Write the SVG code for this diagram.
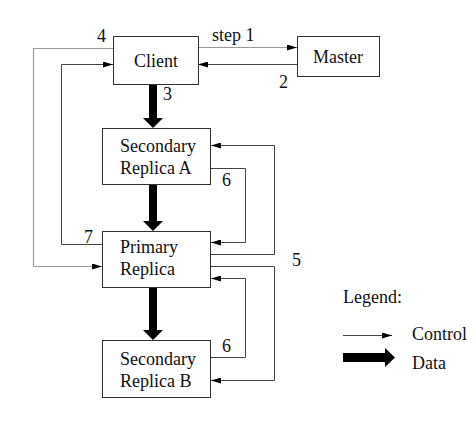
<svg xmlns="http://www.w3.org/2000/svg" width="474" height="441" viewBox="0 0 474 441">
<style>
.box{fill:#fff;stroke:#333;stroke-width:1}
.t{font-family:"Liberation Serif","DejaVu Serif","Times New Roman",serif;font-size:18px;fill:#111}
.c{fill:none;stroke:#444;stroke-width:1}
.cl{fill:none;stroke:#999;stroke-width:1.2}
.d{fill:#000;stroke:none}
</style>
<defs>
<marker id="ah" viewBox="0 0 10 6" refX="10" refY="3" markerWidth="10" markerHeight="6" markerUnits="userSpaceOnUse" orient="auto">
<path d="M0,0 L10,3 L0,6 z" fill="#000"/>
</marker>
</defs>
<rect width="474" height="441" fill="#fff"/>
<g id="connectors">
<path class="cl" d="M198,47.5 H297" marker-end="url(#ah)"/>
<path class="c" d="M297,64.5 H198" marker-end="url(#ah)"/>
<path class="cl" d="M113,48.5 H33.5 V266.5 H102" marker-end="url(#ah)"/>
<path class="c" d="M102,244.5 H61.5 V64.5 H113" marker-end="url(#ah)"/>
<path class="c" d="M211,254.5 H274.5 V145.5 H211" marker-end="url(#ah)"/>
<path class="c" d="M211,168.5 H245.5 V242.5 H211" marker-end="url(#ah)"/>
<path class="c" d="M211,266.5 H274.5 V380.5 H211" marker-end="url(#ah)"/>
<path class="c" d="M211,357.5 H245.5 V278.5 H211" marker-end="url(#ah)"/>
<path class="d" d="M149,85 H157 V118 H163 L153,128 L143,118 H149 z"/>
<path class="d" d="M149,185 H157 V221 H163 L153,231 L143,221 H149 z"/>
<path class="d" d="M149,288 H157 V330 H163 L153,340 L143,330 H149 z"/>
</g>
<g id="client"><rect class="box" x="113.5" y="36.5" width="85" height="48"/><text class="t" x="156" y="67" text-anchor="middle">Client</text></g>
<g id="master"><rect class="box" x="297.5" y="36.5" width="82" height="40"/><text class="t" x="338" y="63" text-anchor="middle">Master</text></g>
<g id="secondaryA"><rect class="box" x="102.5" y="128.5" width="108" height="56"/><text class="t" x="120" y="152">Secondary</text><text class="t" x="120" y="174">Replica A</text></g>
<g id="primary"><rect class="box" x="102.5" y="231.5" width="108" height="56"/><text class="t" x="120" y="253">Primary</text><text class="t" x="120" y="275">Replica</text></g>
<g id="secondaryB"><rect class="box" x="102.5" y="340.5" width="108" height="57"/><text class="t" x="120" y="365">Secondary</text><text class="t" x="120" y="387">Replica B</text></g>
<g id="labels">
<text class="t" x="212" y="41">step 1</text>
<text class="t" x="97" y="42">4</text>
<text class="t" x="279" y="88">2</text>
<text class="t" x="163" y="100">3</text>
<text class="t" x="222" y="186">6</text>
<text class="t" x="84" y="243">7</text>
<text class="t" x="292" y="266">5</text>
<text class="t" x="222" y="352">6</text>
</g>
<g id="legend">
<text class="t" x="343" y="303">Legend:</text>
<path class="c" d="M343,335.5 H392" marker-end="url(#ah)"/>
<path class="d" d="M343,353 H385 V348 L395,357.5 L385,367 V362 H343 z"/>
<text class="t" x="412" y="340">Control</text>
<text class="t" x="412" y="369">Data</text>
</g>
</svg>
